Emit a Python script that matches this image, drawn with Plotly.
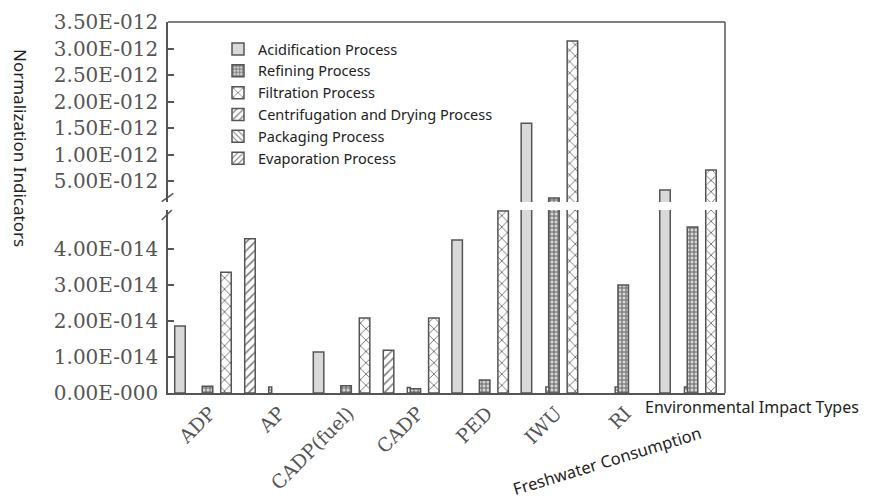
import plotly.graph_objects as go

# ---------------- data ----------------
categories = ["ADP", "AP", "CADP(fuel)", "CADP", "PED", "IWU", "RI", "Freshwater Consumption"]
x_tick_text = ["ADP", "AP", "CADP(fuel)", "CADP", "PED", "IWU", "RI", ""]

acidification = [1.86e-14, 0, 1.14e-14, 0, 4.25e-14, 1.59e-12, 0, 3.3e-13]
refining = [0.19e-14, 0, 0.20e-14, 0.12e-14, 0.36e-14, 1.8e-13, 3.0e-14, 4.61e-14]
filtration = [3.35e-14, 0, 2.08e-14, 2.08e-14, 5.05e-14, 3.14e-12, 0, 7.1e-13]
centrifugation = [4.28e-14, 0, 1.19e-14, 0, 0, 0, 0, 0]
packaging = [0, 0.17e-14, 0, 0.15e-14, 0, 0.17e-14, 0.17e-14, 0.17e-14]
evaporation = [0, 0, 0, 0, 0, 0, 0, 0]

series_names = ["Acidification Process", "Refining Process", "Filtration Process",
                "Centrifugation and Drying Process", "Packaging Process", "Evaporation Process"]
series_values = [acidification, refining, filtration, centrifugation, packaging, evaporation]

upper_tick_vals = [0.5e-12, 1.0e-12, 1.5e-12, 2.0e-12, 2.5e-12, 3.0e-12, 3.5e-12]
upper_tick_text = ["5.00E-012", "1.00E-012", "1.50E-012", "2.00E-012", "2.50E-012", "3.00E-012", "3.50E-012"]
lower_tick_vals = [0, 1e-14, 2e-14, 3e-14, 4e-14]
lower_tick_text = ["0.00E-000", "1.00E-014", "2.00E-014", "3.00E-014", "4.00E-014"]

# ---------------- styles ----------------
LINE = "#555555"
styles = [
    dict(offset=-0.509, width=0.152, color="#d9d9d9", pattern=None),
    dict(offset=-0.112, width=0.152, color="#d0d0d0",
         pattern=dict(shape="+", size=4, solidity=0.45, fgcolor="#666666", bgcolor="#d6d6d6", fillmode="replace")),
    dict(offset=0.155, width=0.152, color="white",
         pattern=dict(shape="x", size=8, solidity=0.2, fgcolor="#666666", bgcolor="white", fillmode="replace")),
    dict(offset=0.501, width=0.152, color="white",
         pattern=dict(shape="/", size=6, solidity=0.25, fgcolor="#777777", bgcolor="white", fillmode="replace")),
    dict(offset=-0.152, width=0.043, color="white",
         pattern=dict(shape="\\", size=5, solidity=0.25, fgcolor="#777777", bgcolor="white", fillmode="replace")),
    dict(offset=0.501, width=0.152, color="white",
         pattern=dict(shape="/", size=5, solidity=0.25, fgcolor="#777777", bgcolor="white", fillmode="replace")),
]

fig = go.Figure()
for name, vals, st in zip(series_names, series_values, styles):
    marker = dict(color=st["color"], line=dict(color=LINE, width=1.5))
    if st["pattern"] is not None:
        marker["pattern"] = st["pattern"]
    shown = [v if v else None for v in vals]
    for yax, show in (("y", True), ("y2", False)):
        fig.add_trace(go.Bar(
            x=categories, y=shown, name=name, yaxis=yax, xaxis="x",
            offset=st["offset"], width=st["width"], marker=marker,
            showlegend=show, legendgroup=name,
        ))

# page body has an 8px margin, so the figure is drawn at (8, 8)
PAGE = 8
W, H = 870 - PAGE, 502 - PAGE
ML, MR, MT, MB = 168 - PAGE, 145, 22 - PAGE, 109
plot_w = W - ML - MR
plot_h = H - MT - MB
bottom_px = 393  # reference pixel of the zero line


def px_x(p):
    return (p - PAGE - ML) / plot_w


def px_y(p):
    return (bottom_px - p) / plot_h


lower_dom_top = px_y(210)
upper_dom_bot = px_y(202)

tick_font = dict(family="DejaVu Serif", size=20, color="#555555")
axis_common = dict(showline=True, linecolor=LINE, linewidth=1.5, ticks="inside", ticklen=6,
                   tickwidth=1.5, tickcolor=LINE, showgrid=False, zeroline=False,
                   tickfont=tick_font, tickmode="array", ticklabelstandoff=4)

fig.update_layout(
    width=W, height=H,
    margin=dict(l=ML, r=MR, t=MT, b=MB, autoexpand=False),
    paper_bgcolor="white", plot_bgcolor="white",
    barmode="overlay",
    showlegend=True,
    legend=dict(x=px_x(218), y=px_y(33), xanchor="left", yanchor="top",
                font=dict(family="Noto Sans", size=14.5, color="#222222"),
                bgcolor="rgba(0,0,0,0)", traceorder="normal", tracegroupgap=0),
    xaxis=dict(type="category", categoryorder="array", categoryarray=categories,
               range=[-0.606, 7.433], showline=True, linecolor=LINE, linewidth=1.5,
               ticks="", showgrid=False, tickangle=-45, tickmode="array",
               tickvals=categories, ticktext=x_tick_text,
               tickfont=dict(family="DejaVu Serif", size=19, color="#555555"),
               anchor="y"),
    yaxis=dict(domain=[0, lower_dom_top], range=[0, 5.08e-14],
               tickvals=lower_tick_vals, ticktext=lower_tick_text, anchor="x", **axis_common),
    yaxis2=dict(domain=[upper_dom_bot, 1], range=[0.104e-12, 3.5e-12],
                tickvals=upper_tick_vals, ticktext=upper_tick_text, anchor="x", **axis_common),
)

# frame (top and right) and axis break marks
fig.add_shape(type="line", xref="paper", yref="paper", x0=0, x1=1, y0=1, y1=1,
              line=dict(color=LINE, width=1.5))
fig.add_shape(type="line", xref="paper", yref="paper", x0=1, x1=1, y0=0, y1=1,
              line=dict(color=LINE, width=1.5))
for (xa, ya, xb, yb) in [(161.7, 201.7, 173.3, 193.3), (161.7, 220.0, 171.7, 210.0)]:
    fig.add_shape(type="line", xref="paper", yref="paper",
                  x0=px_x(xa), y0=px_y(ya), x1=px_x(xb), y1=px_y(yb),
                  line=dict(color=LINE, width=1.5))

fig.add_annotation(text="Normalization Indicators", xref="paper", yref="paper",
                   x=px_x(21), y=px_y(148), xanchor="center", yanchor="middle",
                   textangle=90, showarrow=False, font=dict(family="Noto Sans", size=17, color="#222222"))
fig.add_annotation(text="Environmental Impact Types", xref="paper", yref="paper",
                   x=px_x(752), y=px_y(407), xanchor="center", yanchor="middle",
                   showarrow=False, font=dict(family="Noto Sans", size=16, color="#222222"))
fig.add_annotation(text=categories[-1], xref="paper", yref="paper",
                   x=px_x(607), y=px_y(460), xanchor="center", yanchor="middle",
                   textangle=-17, showarrow=False, font=dict(family="Noto Sans", size=16.5, color="#222222"))

fig.write_html("out.html")
